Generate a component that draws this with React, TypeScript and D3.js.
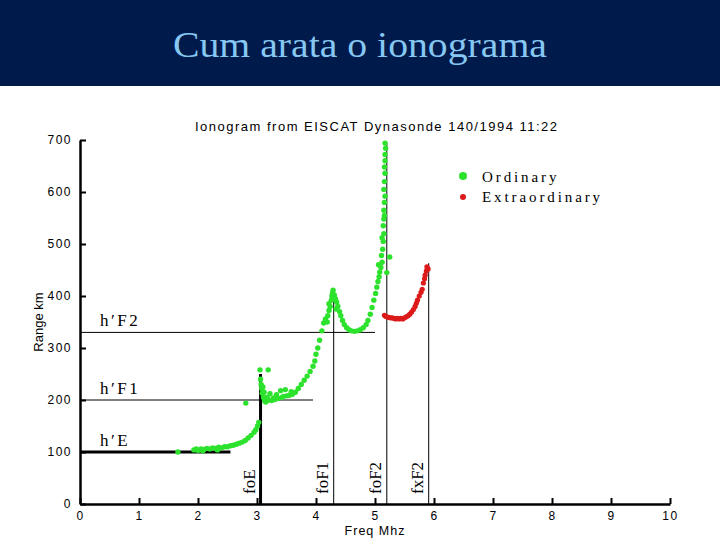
import React, { useRef, useEffect } from "react";
import * as d3 from "d3";

// ordinary trace (freq MHz, virtual height km)
const ordinary: [number, number][] = [
  [1.66, 100], [1.93, 104], [1.97, 106], [2.0, 103], [2.05, 106], [2.08, 102], [2.1, 105], [2.15, 107],
  [2.2, 106], [2.25, 108], [2.3, 107], [2.33, 104], [2.35, 109], [2.4, 108], [2.45, 110], [2.5, 110],
  [2.55, 112], [2.6, 113], [2.65, 115], [2.7, 117], [2.75, 119], [2.8, 122], [2.85, 127], [2.9, 132],
  [2.95, 138], [2.98, 143], [3.01, 150], [3.03, 157], [2.81, 194],
  [3.05, 258], [3.19, 258], [3.06, 240], [3.07, 230], [3.08, 222], [3.09, 213], [3.1, 225], [3.11, 205],
  [3.12, 215], [3.13, 198], [3.15, 196], [3.17, 205], [3.2, 200], [3.22, 212], [3.25, 199], [3.28, 204],
  [3.3, 201], [3.33, 210], [3.36, 203], [3.4, 218], [3.42, 205], [3.45, 207], [3.48, 220], [3.5, 208],
  [3.55, 209], [3.58, 216], [3.6, 211], [3.65, 215], [3.7, 222], [3.75, 230], [3.8, 238], [3.85, 246],
  [3.9, 255], [3.95, 265], [3.98, 275], [4.0, 288], [4.03, 300], [4.06, 315], [4.1, 333], [4.13, 348],
  [4.16, 356], [4.2, 362], [4.22, 372], [4.24, 380], [4.26, 392], [4.27, 400], [4.28, 406], [4.29, 411],
  [4.22, 385], [4.3, 395], [4.34, 375], [4.19, 350],
  [4.31, 402], [4.33, 395], [4.35, 388], [4.37, 380], [4.4, 370], [4.42, 362], [4.45, 353], [4.48, 345],
  [4.52, 339], [4.56, 335], [4.6, 333], [4.65, 332], [4.7, 333], [4.75, 335], [4.8, 339], [4.85, 345],
  [4.88, 353], [4.92, 365], [4.95, 378], [4.98, 392], [5.01, 405], [5.03, 417], [5.05, 428], [5.07, 437],
  [5.08, 446], [5.1, 455], [5.06, 460], [5.12, 465], [5.11, 478], [5.13, 490], [5.14, 505], [5.12, 512],
  [5.15, 520], [5.14, 535], [5.15, 548], [5.16, 555], [5.15, 565], [5.16, 580], [5.17, 592], [5.15, 605],
  [5.16, 620], [5.17, 636], [5.16, 648], [5.17, 660], [5.17, 672], [5.18, 684], [5.17, 694], [5.25, 475],
  [5.2, 445],
];

const extraordinary: [number, number][] = [
  [5.16, 363], [5.18, 361], [5.2, 360], [5.23, 359], [5.26, 358], [5.29, 358], [5.32, 357], [5.35, 356],
  [5.38, 357], [5.41, 356], [5.44, 357], [5.47, 356], [5.5, 358], [5.53, 360], [5.56, 362], [5.59, 365],
  [5.62, 369], [5.65, 374], [5.68, 380], [5.7, 386], [5.72, 392], [5.75, 400], [5.78, 407], [5.8, 413],
  [5.82, 425], [5.84, 433], [5.85, 440], [5.87, 448], [5.88, 456], [5.9, 452],
];

// virtual heights h'  (label, km, extends to freq)
const heightLabels = ["h′E", "h′F1", "h′F2"];
const heightKm = [100, 200, 330];
const heightEnd = [2.55, 3.95, 5.0];

// critical frequencies  (label, MHz, line top km)
const critLabels = ["foE", "foF1", "foF2", "fxF2"];
const critFreq = [3.06, 4.3, 5.2, 5.91];
const critTop = [250, 410, 695, 463];

const xTicks = [0, 1, 2, 3, 4, 5, 6, 7, 8, 9, 10];
const yTicks = [0, 100, 200, 300, 400, 500, 600, 700];

const W = 720;
const H = 540;
const margin = { top: 140, right: 50, bottom: 36, left: 80 };

const App = () => {
  const canvas = useRef<SVGSVGElement>(null);

  useEffect(() => {
    const svg = d3.select(canvas.current);
    svg.selectAll("*").remove();

    const x = d3.scaleLinear().domain([0, 10]).range([margin.left, W - margin.right]);
    const y = d3.scaleLinear().domain([0, 700]).range([H - margin.bottom, margin.top]);

    // header band
    svg.append("rect").attr("x", 0).attr("y", 0).attr("width", W).attr("height", 86).attr("fill", "#011a4c");
    svg.append("text")
      .attr("x", 360).attr("y", 57)
      .attr("text-anchor", "middle")
      .attr("font-family", "Liberation Serif, serif")
      .attr("font-size", 36)
      .attr("textLength", 374).attr("lengthAdjust", "spacingAndGlyphs")
      .attr("fill", "#86c8f2")
      .text("Cum arata o ionograma");

    svg.append("text")
      .attr("x", 376).attr("y", 131)
      .attr("text-anchor", "middle")
      .attr("font-family", "Liberation Sans, sans-serif")
      .attr("font-size", 13)
      .attr("textLength", 362).attr("lengthAdjust", "spacing")
      .text("Ionogram from EISCAT Dynasonde 140/1994 11:22");

    // reference lines
    const g = svg.append("g");
    heightKm.forEach((km, i) => {
      g.append("line")
        .attr("x1", x(0)).attr("x2", x(heightEnd[i]))
        .attr("y1", y(km)).attr("y2", y(km))
        .attr("stroke", "#000").attr("stroke-width", i === 0 ? 3 : 1);
      g.append("text")
        .attr("x", x(0.34)).attr("y", y(km) - 6)
        .attr("font-family", "Liberation Serif, serif")
        .attr("font-size", 17)
        .attr("letter-spacing", 2.5)
        .text(heightLabels[i]);
    });
    critFreq.forEach((f, i) => {
      g.append("line")
        .attr("x1", x(f)).attr("x2", x(f))
        .attr("y1", y(0)).attr("y2", y(critTop[i]))
        .attr("stroke", "#000").attr("stroke-width", i === 0 ? 3 : 1);
      const tx = x(f) - 6;
      const ty = y(0) - 10;
      g.append("text")
        .attr("transform", "translate(" + tx + "," + ty + ") rotate(-90)")
        .attr("font-family", "Liberation Serif, serif")
        .attr("font-size", 17)
        .text(critLabels[i]);
    });

    // data
    svg.append("g").selectAll("circle").data(ordinary).join("circle")
      .attr("cx", d => x(d[0])).attr("cy", d => y(d[1]))
      .attr("r", 2.7).attr("fill", "#2de22d");
    svg.append("g").selectAll("circle").data(extraordinary).join("circle")
      .attr("cx", d => x(d[0])).attr("cy", d => y(d[1]))
      .attr("r", 2.6).attr("fill", "#dc1a1a");

    // axes
    const xAxis = d3.axisBottom(x).tickValues(xTicks).tickSizeInner(-6).tickSizeOuter(0).tickPadding(7);
    const gx = svg.append("g").attr("transform", "translate(0," + y(0) + ")").call(xAxis);
    const yAxis = d3.axisLeft(y).tickValues(yTicks).tickSizeInner(-6).tickSizeOuter(0).tickPadding(8);
    const gy = svg.append("g").attr("transform", "translate(" + x(0) + ",0)").call(yAxis);
    [gx, gy].forEach(ax => {
      ax.select(".domain").attr("stroke-width", 2.5);
      ax.selectAll(".tick line").attr("stroke-width", 2);
      ax.selectAll(".tick text")
        .attr("font-family", "Liberation Sans, sans-serif")
        .attr("font-size", 12)
        .attr("letter-spacing", 1.5)
        .attr("fill", "#000");
    });

    svg.append("text")
      .attr("x", 375).attr("y", 535)
      .attr("text-anchor", "middle")
      .attr("font-family", "Liberation Sans, sans-serif")
      .attr("font-size", 12.5)
      .attr("letter-spacing", 1)
      .text("Freq Mhz");
    svg.append("text")
      .attr("transform", "translate(43,322) rotate(-90)")
      .attr("text-anchor", "middle")
      .attr("font-family", "Liberation Sans, sans-serif")
      .attr("font-size", 13)
      .text("Range km");

    // legend
    const legend = [
      { name: "Ordinary", color: "#2de22d", r: 4 },
      { name: "Extraordinary", color: "#dc1a1a", r: 3 },
    ];
    legend.forEach((l, i) => {
      svg.append("circle").attr("cx", 463).attr("cy", 176 + i * 21).attr("r", l.r).attr("fill", l.color);
      svg.append("text")
        .attr("x", 482).attr("y", 182 + i * 20)
        .attr("font-family", "Liberation Serif, serif")
        .attr("font-size", 15)
        .attr("letter-spacing", 2.9)
        .text(l.name);
    });
  }, []);

  return (
    <div>
      <style>{"body{margin:0;background:#fff}"}</style>
      <svg ref={canvas} width={W} height={H} style={{ display: "block" }}></svg>
    </div>
  );
};

export default App;
